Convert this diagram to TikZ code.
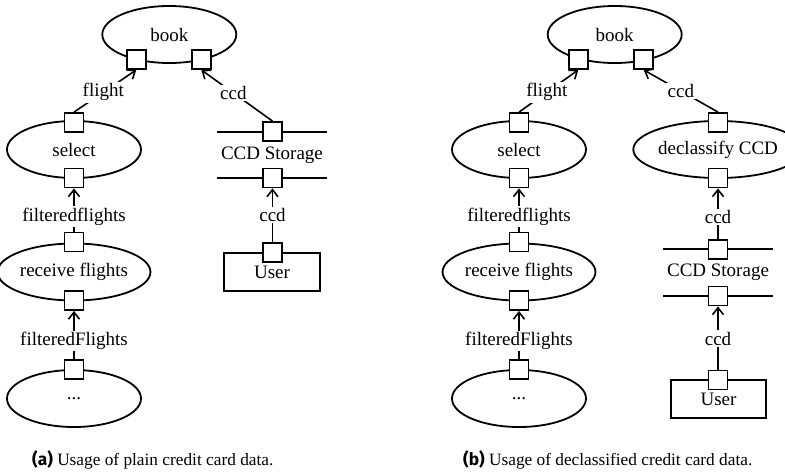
\documentclass[tikz,border=0pt]{standalone}
\usepackage{fontspec}
\setmainfont{Liberation Serif}
\newfontfamily\capsans{Fira Sans}
\usetikzlibrary{shapes.geometric,arrows.meta}

\begin{document}
\begin{tikzpicture}[x=1pt,y=-1pt,
  every node/.style={font=\fontsize{19}{21}\selectfont},
  proc/.style={ellipse,draw,line width=1.8pt,minimum width=134pt,minimum height=57pt,inner sep=0pt},
  port/.style={rectangle,draw,line width=1.8pt,fill=white,minimum size=19pt,inner sep=0pt},
  actor/.style={rectangle,draw,line width=1.8pt,minimum width=96pt,minimum height=38pt,inner sep=0pt},
  store/.style={inner sep=0pt,minimum width=110pt,minimum height=45pt},
  lbl/.style={fill=white,inner sep=1.5pt},
  flow/.style={line width=1.6pt,-{Straight Barb[length=7pt,width=11pt,line width=1.6pt]}},
  storeline/.style={line width=1.8pt},
  capt/.style={font=\fontsize{17.3}{19}\selectfont,anchor=west,inner sep=0pt}]
\useasboundingbox (0,0) rectangle (785,472);

% ---------- (a) plain credit card data ----------
\node[proc] (aBook) at (169.3,34.5) {book};
\node[proc] (aSel) at (74,149.5) {select};
\node[proc] (aRecv) at (74,272) {receive flights};
\node[proc] (aDots) at (74,398.5) {...};
\node[store] (aStore) at (272,155) {CCD Storage};
\draw[storeline] (217,132) -- (327,132);
\draw[storeline] (217,178) -- (327,178);
\node[actor] (aUser) at (272,272) {User};

\node[port] (aBookL) at (136.3,59.5) {};
\node[port] (aBookR) at (201.3,59.5) {};
\node[port] (aSelT) at (74,122.5) {};
\node[port] (aSelB) at (74,178) {};
\node[port] (aRecvT) at (74,242) {};
\node[port] (aRecvB) at (74,300.5) {};
\node[port] (aDotsT) at (74,369.5) {};
\node[port] (aStoreT) at (272.5,131.5) {};
\node[port] (aStoreB) at (272.5,178) {};
\node[port] (aUserT) at (272.5,252.5) {};

\draw[flow] (aSelT.north) -- node[lbl,pos=0.47] {flight} (aBookL.south);
\draw[flow] (aStoreT.north) -- node[lbl,pos=0.55] {ccd} (aBookR.south);
\draw[flow] (aRecvT.north) -- node[lbl,pos=0.35] {filteredflights} (aSelB.south);
\draw[flow] (aDotsT.north) -- node[lbl,pos=0.38] {filteredFlights} (aRecvB.south);
\draw[flow] (aUserT.north) -- node[lbl,pos=0.5] {ccd} (aStoreB.south);

\node[capt] (capA) at (32,460) {{\capsans\bfseries (a)} Usage of plain credit card data.};

% ---------- (b) declassified credit card data ----------
\node[proc] (bBook) at (614.7,34.5) {book};
\node[proc] (bSel) at (519,149.5) {select};
\node[proc] (bRecv) at (519,272) {receive flights};
\node[proc] (bDots) at (519,398.5) {...};
\node[proc,minimum width=132pt] (bDecl) at (718,149.5) {declassify CCD};
\node[store] (bStore) at (718,272.5) {CCD Storage};
\draw[storeline] (663,249) -- (773,249);
\draw[storeline] (663,296) -- (773,296);
\node[actor,minimum width=95pt] (bUser) at (718.5,399) {User};

\node[port] (bBookL) at (578.3,59.5) {};
\node[port] (bBookR) at (643.7,59.5) {};
\node[port] (bSelT) at (519,122.5) {};
\node[port] (bSelB) at (519,178) {};
\node[port] (bRecvT) at (519,242) {};
\node[port] (bRecvB) at (519,300.5) {};
\node[port] (bDotsT) at (519,369.5) {};
\node[port] (bDeclT) at (718,122.5) {};
\node[port] (bDeclB) at (718,178) {};
\node[port] (bStoreT) at (718,249.5) {};
\node[port] (bStoreB) at (718,296) {};
\node[port] (bUserT) at (718,380) {};

\draw[flow] (bSelT.north) -- node[lbl,pos=0.47] {flight} (bBookL.south);
\draw[flow] (bDeclT.north) -- node[lbl,pos=0.5] {ccd} (bBookR.south);
\draw[flow] (bRecvT.north) -- node[lbl,pos=0.35] {filteredflights} (bSelB.south);
\draw[flow] (bDotsT.north) -- node[lbl,pos=0.38] {filteredFlights} (bRecvB.south);
\draw[flow] (bStoreT.north) -- node[lbl,pos=0.44] {ccd} (bDeclB.south);
\draw[flow] (bUserT.north) -- node[lbl,pos=0.49] {ccd} (bStoreB.south);

\node[capt] (capB) at (463,460) {{\capsans\bfseries (b)} Usage of declassified credit card data.};
\end{tikzpicture}
\end{document}
